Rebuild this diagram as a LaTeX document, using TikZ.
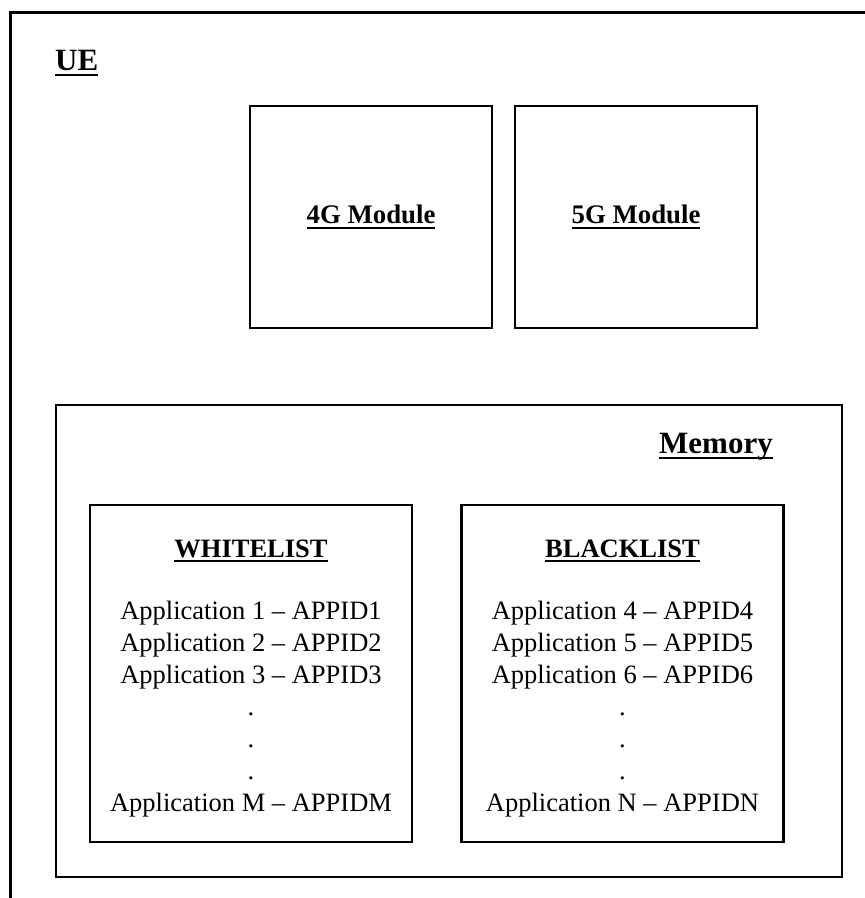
\documentclass[tikz,border=0pt]{standalone}
\usepackage{fontspec}
\setmainfont{Liberation Serif}
\usepackage{tikz}
\usetikzlibrary{positioning}

% underlined label text
\newcommand{\ulabel}[1]{\setbox0\hbox{#1}\leavevmode\rlap{\rule[-0.2em]{\wd0}{0.075em}}\copy0}

\begin{document}
\begin{tikzpicture}[x=1pt, y=-1pt,
    frame/.style={draw, line width=2.8pt, inner sep=0pt},
    modbox/.style={frame, minimum width=242pt, minimum height=222pt,
                   font=\fontsize{26.8}{32}\selectfont\bfseries},
    listbox/.style={frame, minimum width=322pt, minimum height=337pt},
    head/.style={font=\fontsize{31}{36}\selectfont\bfseries, inner sep=0pt},
    title/.style={font=\fontsize{26.5}{32}\selectfont\bfseries, inner sep=0pt},
    entries/.style={font=\fontsize{26.5}{32}\selectfont, align=center, inner sep=0pt}]

    \useasboundingbox (0,0) rectangle (865,898);
    \clip (0,0) rectangle (865,898);

    % UE frame (runs off the page right and bottom)
    \node[frame, minimum width=900pt, minimum height=920pt, anchor=north west] (ue) at (9,11) {};
    \node[head, anchor=base west] (uelbl) at (55,70) {\ulabel{UE}};

    % radio modules
    \node[modbox] (m4g) at (371,217) {\ulabel{4G Module}};
    \node[modbox] (m5g) at (636,217) {\ulabel{5G Module}};

    % memory
    \node[frame, minimum width=786pt, minimum height=472pt] (mem) at (449,641) {};
    \node[head, anchor=base east] (memlbl) at (773,453) {\ulabel{Memory}};

    % === whitelist ===
    \node[listbox] (wl) at (251,673.5) {};
    \node[title, anchor=base] (wltitle) at (251,557) {\ulabel{WHITELIST}};
    \node[entries, anchor=north] (wlitems) at (251,601)
      {Application 1 – APPID1\\Application 2 – APPID2\\Application 3 – APPID3\\.\\.\\.\\Application M – APPIDM};

    % === blacklist ===
    \node[listbox] (bl) at (622.5,673.5) {};
    \node[title, anchor=base] (bltitle) at (622.5,557) {\ulabel{BLACKLIST}};
    \node[entries, anchor=north] (blitems) at (622.5,601)
      {Application 4 – APPID4\\Application 5 – APPID5\\Application 6 – APPID6\\.\\.\\.\\Application N – APPIDN};

\end{tikzpicture}
\end{document}
